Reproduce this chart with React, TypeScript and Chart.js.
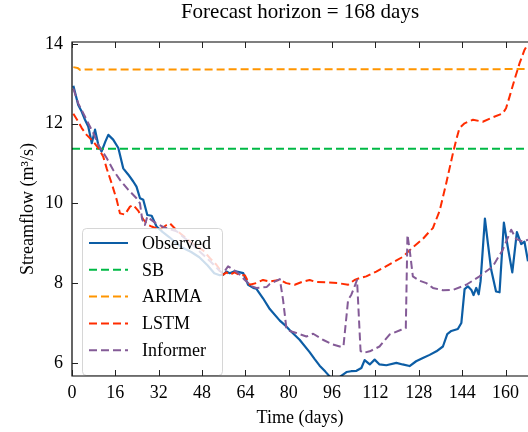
import React, { useEffect, useRef } from "react";
import { Chart, registerables } from "chart.js";

Chart.register(...registerables);

const FONT = '"Liberation Serif", "Times New Roman", Times, serif';

const TITLE = "Forecast horizon = 168 days";
const X_TITLE = "Time (days)";
const Y_TITLE = "Streamflow (m³/s)";

const X_MIN = 0;
const X_MAX = 168.3;
const X_STEP = 16;
const Y_MIN = 5.67;
const Y_MAX = 14.05;
const Y_STEP = 2;

const seriesLabels = ["Observed", "SB", "ARIMA", "LSTM", "Informer"];
const seriesColors = ["#0C5DA5", "#00B945", "#FF9500", "#FF2C00", "#845B97"];

// Observed streamflow (m³/s)
const obsDays = [
  0.5, 2.3, 3.6, 4.8, 6.0, 7.3, 8.5, 9.7, 10.9, 12.3, 13.4, 15.2, 17.1, 18.9, 20.8, 22.6, 23.8, 25.1,
  26.3, 27.8, 29.4, 31.2, 33.5, 36, 38.5, 41, 44, 47, 50, 52.5, 54.5, 55.8, 57, 58.2, 60, 62, 63.2,
  65, 66.9, 68, 70.5, 73, 76.7, 79, 80.4, 84, 87.7, 89.5, 91.4, 93.5, 95.1, 96.5, 98, 99.5, 101.3,
  103, 105, 106.8, 108, 109.9, 111.7, 113.5, 116, 119.7, 122, 124.6, 127, 129.5, 132, 134.5, 136.9,
  138.5, 140, 142.4, 143.7, 144.9, 146.1, 147.4, 148.2, 149.2, 150.1, 150.8, 152.4, 153.5, 154.7,
  156.5, 157.8, 159.4, 160.8, 162.5, 164.2, 165.8, 167, 168.3,
];
const obsFlow = [
  12.95, 12.47, 12.3, 12.1, 11.93, 11.51, 11.85, 11.47, 11.3, 11.55, 11.72, 11.6, 11.39, 10.88, 10.72,
  10.55, 10.42, 10.13, 10.09, 9.71, 9.69, 9.42, 9.28, 9.15, 9.0, 8.88, 8.78, 8.65, 8.45, 8.25, 8.2,
  8.21, 8.29, 8.25, 8.3, 8.27, 8.25, 7.96, 7.88, 7.86, 7.62, 7.35, 7.06, 6.92, 6.82, 6.58, 6.27, 6.1,
  5.93, 5.78, 5.66, 5.62, 5.6, 5.68, 5.77, 5.79, 5.8, 5.87, 6.07, 5.96, 6.08, 5.96, 5.94, 6.0, 5.96,
  5.92, 6.04, 6.12, 6.2, 6.29, 6.41, 6.72, 6.8, 6.85, 7.0, 7.85, 7.92, 7.83, 7.7, 7.88, 7.72, 8.05,
  9.62, 9.0, 8.34, 7.79, 7.77, 9.52, 8.92, 8.27, 9.28, 8.98, 9.04, 8.55,
];

// SB forecast (constant)
const sbDays = [0, 168.3];
const sbFlow = [11.37, 11.37];

// ARIMA forecast
const arimaDays = [0.5, 2, 3, 5, 168.3];
const arimaFlow = [13.42, 13.4, 13.35, 13.36, 13.37];

// LSTM forecast
const lstmDays = [
  0.5, 2.3, 3.6, 5.4, 7.9, 9.7, 11.5, 12.8, 14.6, 16.5, 17.7, 19.5, 21.4, 22.6, 24.4, 26.3, 28.1,
  29.4, 32.4, 34.9, 36.1, 39, 42.3, 45, 48.4, 51, 53.3, 55.8, 57, 58.2, 60, 62, 63.8, 65.6, 68, 70.5,
  73, 76.7, 79.1, 82.2, 85.3, 87.7, 90, 93.9, 98.2, 101.9, 104.3, 106.2, 108.6, 112.3, 114.8, 118.5,
  122.1, 125.8, 129.5, 132, 133.2, 135.7, 138.1, 140.6, 141.8, 143, 144.9, 148, 151.6, 155.3, 159,
  160.2, 161.5, 163.3, 165.2, 167, 168.3,
];
const lstmFlow = [
  12.25, 12.05, 11.89, 11.72, 11.55, 11.39, 11.18, 10.88, 10.51, 10.09, 9.75, 9.72, 9.92, 9.96, 9.82,
  9.6, 9.46, 9.42, 9.34, 9.46, 9.5, 9.3, 9.12, 8.95, 8.82, 8.62, 8.46, 8.21, 8.27, 8.21, 8.27, 8.2,
  8.2, 7.96, 8.0, 8.08, 8.04, 8.08, 8.0, 7.96, 8.04, 8.08, 8.03, 8.02, 8.0, 7.96, 8.08, 8.13, 8.17,
  8.29, 8.38, 8.52, 8.66, 8.9, 9.11, 9.3, 9.38, 9.82, 10.5, 11.26, 11.59, 11.89, 12.01, 12.1, 12.05,
  12.16, 12.26, 12.39, 12.68, 13.1, 13.52, 13.85, 14.0,
];

// Informer forecast
const informerDays = [
  0.5, 2.3, 4.2, 6, 7.9, 9.7, 10.9, 12.8, 15.2, 17.7, 20.8, 23.8, 25.1, 25.9, 26.9, 27.8, 29, 31, 34,
  38.6, 43, 47, 51, 54.6, 55.8, 57.6, 59.5, 61.3, 63.8, 66.5, 68, 71.8, 73, 76.7, 77.9, 79.1, 80.4,
  82.8, 86.5, 89, 92.6, 96.3, 99.4, 100.2, 101.9, 103.1, 104.3, 105.2, 106.5, 107.5, 109.9, 113.5,
  117.2, 121.5, 123.2, 123.8, 124.6, 125.8, 128.3, 130.8, 133.2, 136.9, 140.6, 145.5, 150.4, 155.3,
  159, 162.1, 163.9, 166.4, 168.3,
];
const informerFlow = [
  12.88, 12.51, 12.26, 12.01, 11.76, 11.47, 11.34, 11.14, 10.84, 10.59, 10.34, 10.13, 10.0, 9.6, 9.46,
  9.67, 9.6, 9.5, 9.4, 9.3, 9.05, 8.8, 8.55, 8.3, 8.25, 8.42, 8.34, 8.25, 8.08, 7.92, 7.88, 7.9, 7.98,
  8.1, 7.58, 6.88, 6.8, 6.75, 6.66, 6.73, 6.58, 6.46, 6.4, 6.42, 7.58, 7.71, 7.92, 8.08, 6.3, 6.25,
  6.29, 6.41, 6.71, 6.83, 6.87, 9.21, 8.85, 8.17, 8.06, 8.0, 7.88, 7.82, 7.83, 7.96, 8.17, 8.42, 8.84,
  9.34, 9.11, 9.04, 9.09,
];

const toPoints = (xs: number[], ys: number[]) => xs.map((x, i) => ({ x, y: ys[i] }));

const DASH = [8, 4];

// Axes frame, inward ticks, title, axis titles and the in-plot legend
const decorPlugin = {
  id: "decor",
  afterDatasetsDraw(chart: any) {
    const { ctx, chartArea: a, scales } = chart;
    const xs = scales.x;
    const ys = scales.y;
    ctx.save();

    // legend box
    const lx = 82;
    const ly = 228;
    const lw = 140;
    const lh = 147;
    ctx.beginPath();
    ctx.roundRect(lx + 0.5, ly + 0.5, lw, lh, 4);
    ctx.fillStyle = "rgba(255,255,255,0.8)";
    ctx.fill();
    ctx.strokeStyle = "rgba(204,204,204,0.8)";
    ctx.lineWidth = 1;
    ctx.stroke();

    const rowY0 = 243;
    const rowGap = 26.8;
    chart.data.datasets.forEach((ds: any, i: number) => {
      const cy = rowY0 + i * rowGap;
      ctx.beginPath();
      ctx.setLineDash(ds.borderDash || []);
      ctx.strokeStyle = ds.borderColor;
      ctx.lineWidth = ds.borderWidth;
      ctx.lineCap = "butt";
      ctx.moveTo(89, cy);
      ctx.lineTo(128, cy);
      ctx.stroke();
      ctx.setLineDash([]);
      ctx.fillStyle = "#000";
      ctx.font = `18px ${FONT}`;
      ctx.textAlign = "left";
      ctx.textBaseline = "middle";
      ctx.fillText(ds.label, 142, cy + 1);
    });

    // spines
    ctx.strokeStyle = "#000";
    ctx.lineWidth = 1.2;
    ctx.beginPath();
    ctx.moveTo(a.right + 2, a.top);
    ctx.lineTo(a.left, a.top);
    ctx.lineTo(a.left, a.bottom);
    ctx.lineTo(a.right + 2, a.bottom);
    ctx.stroke();

    // inward ticks
    const tl = 6;
    ctx.lineWidth = 1;
    ctx.strokeStyle = "#222";
    ctx.beginPath();
    xs.ticks.forEach((t: any) => {
      const px = Math.round(xs.getPixelForValue(t.value)) + 0.5;
      ctx.moveTo(px, a.bottom);
      ctx.lineTo(px, a.bottom - tl);
      ctx.moveTo(px, a.top);
      ctx.lineTo(px, a.top + tl);
    });
    ys.ticks.forEach((t: any) => {
      const py = Math.round(ys.getPixelForValue(t.value)) + 0.5;
      ctx.moveTo(a.left, py);
      ctx.lineTo(a.left + tl, py);
    });
    ctx.stroke();

    // titles
    ctx.fillStyle = "#000";
    ctx.textAlign = "center";
    ctx.textBaseline = "alphabetic";
    ctx.font = `21px ${FONT}`;
    ctx.fillText(TITLE, (a.left + a.right) / 2, 18);
    ctx.font = `18px ${FONT}`;
    ctx.fillText(X_TITLE, (a.left + a.right) / 2, 423);
    ctx.save();
    ctx.translate(33, (a.top + a.bottom) / 2);
    ctx.rotate(-Math.PI / 2);
    ctx.fillText(Y_TITLE, 0, 0);
    ctx.restore();

    ctx.restore();
  },
};

export default function App() {
  const canvasRef = useRef<HTMLCanvasElement | null>(null);

  useEffect(() => {
    const canvas = canvasRef.current;
    if (!canvas) return;
    const mk = (i: number, data: { x: number; y: number }[], dashed: boolean, width: number) => ({
      label: seriesLabels[i],
      data,
      borderColor: seriesColors[i],
      backgroundColor: seriesColors[i],
      borderWidth: width,
      borderDash: dashed ? DASH : [],
      borderCapStyle: "butt",
      borderJoinStyle: "round",
      pointRadius: 0,
      tension: 0,
      fill: false,
      order: 5 - i,
    });
    const chart = new Chart(canvas, {
      type: "line",
      data: {
        datasets: [
          mk(0, toPoints(obsDays, obsFlow), false, 2.2),
          mk(1, toPoints(sbDays, sbFlow), true, 2),
          mk(2, toPoints(arimaDays, arimaFlow), true, 2),
          mk(3, toPoints(lstmDays, lstmFlow), true, 2),
          mk(4, toPoints(informerDays, informerFlow), true, 2),
        ] as any,
      },
      options: {
        animation: false,
        responsive: false,
        devicePixelRatio: 1,
        layout: { padding: { top: 42, left: 0, right: 0, bottom: 0 } },
        plugins: {
          legend: { display: false },
          title: { display: false },
          tooltip: { enabled: false },
        },
        scales: {
          x: {
            type: "linear",
            min: X_MIN,
            max: X_MAX,
            grid: { display: false, drawTicks: false },
            border: { display: false },
            ticks: {
              stepSize: X_STEP,
              includeBounds: false,
              padding: 6,
              color: "#000",
              font: { family: FONT, size: 18 },
              maxRotation: 0,
              callback: (v: any) => String(v),
            },
            afterFit: (s: any) => {
              s.height = 56;
            },
          },
          y: {
            type: "linear",
            min: Y_MIN,
            max: Y_MAX,
            grid: { display: false, drawTicks: false },
            border: { display: false },
            ticks: {
              stepSize: Y_STEP,
              includeBounds: false,
              padding: 9,
              color: "#000",
              font: { family: FONT, size: 18 },
              callback: (v: any) => String(v),
            },
            afterFit: (s: any) => {
              s.width = 72;
            },
          },
        },
      } as any,
      plugins: [decorPlugin],
    });
    return () => chart.destroy();
  }, []);

  return (
    <div style={{ position: "absolute", left: 0, top: 0, width: 528, height: 432, background: "#fff" }}>
      <canvas ref={canvasRef} width={528} height={432} style={{ width: 528, height: 432, display: "block" }} />
    </div>
  );
}
